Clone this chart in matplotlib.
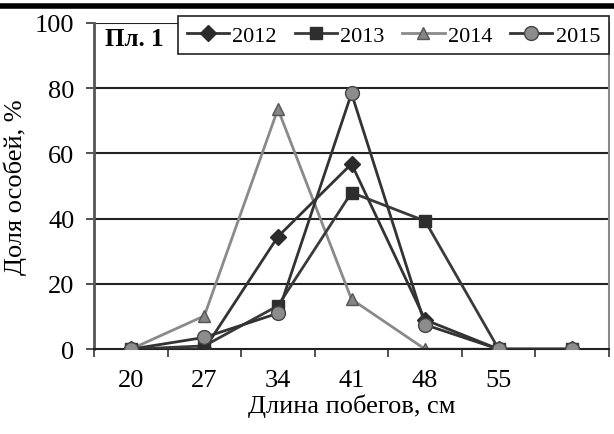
import matplotlib
matplotlib.use("Agg")
import matplotlib.pyplot as plt
from matplotlib.lines import Line2D

# shoot length classes, cm (last class has no label in the original)
categories = ["20", "27", "34", "41", "48", "55", ""]

share_2012 = [0, 0, 34.5, 56.8, 9.0, 0, 0]
share_2013 = [0, 1.0, 13.3, 48.0, 39.3, 0, 0]
share_2014 = [0, 10.2, 73.6, 15.3, 0, 0, 0]
share_2015 = [0, 3.6, 11.0, 78.4, 7.5, 0, 0]

y_ticks = [0, 20, 40, 60, 80, 100]


def main():
    plt.rcParams["font.family"] = ["Liberation Serif", "DejaVu Serif"]
    fig = plt.figure(figsize=(6.14, 4.35), dpi=100)
    ax = fig.add_axes([0.153, 0.195, 0.839, 0.75])

    x = list(range(len(categories)))
    ax.plot(x, share_2012, color="#333333", lw=2, marker="D", ms=8,
            mfc="#2b2b2b", mec="#2b2b2b", label="2012", zorder=4)
    ax.plot(x, share_2013, color="#3a3a3a", lw=2, marker="s", ms=8,
            mfc="#2e2e2e", mec="#2e2e2e", label="2013", zorder=3)
    ax.plot(x, share_2014, color="#8a8a8a", lw=2, marker="^", ms=9,
            mfc="#858585", mec="#555555", label="2014", zorder=2)
    ax.plot(x, share_2015, color="#333333", lw=2, marker="o", ms=10,
            mfc="#8c8c8c", mec="#444444", label="2015", zorder=5)

    ax.set_xlim(-0.5, len(categories) - 0.5)
    ax.set_ylim(0, 100)
    ax.set_xticks(x)
    ax.set_xticklabels(categories, fontsize=19)
    ax.set_xticks([i - 0.5 for i in range(len(categories) + 1)], minor=True)
    ax.tick_params(axis="x", which="major", length=0, pad=14)
    ax.tick_params(axis="x", which="minor", length=6, width=1.2,
                   color="#333333", direction="out")
    ax.set_yticks(y_ticks)
    ax.set_yticklabels([str(v) for v in y_ticks], fontsize=19)
    ax.tick_params(axis="y", length=6, width=1.2, color="#333333", pad=8)

    for v in y_ticks[1:]:
        ax.axhline(v, color="#222222", lw=1.5, zorder=1)

    ax.spines["top"].set_visible(False)
    ax.spines["left"].set_color("#555555")
    ax.spines["left"].set_linewidth(2)
    ax.spines["right"].set_color("#888888")
    ax.spines["right"].set_linewidth(1.5)
    ax.spines["bottom"].set_color("#222222")
    ax.spines["bottom"].set_linewidth(1.5)

    ax.set_xlabel("Длина побегов, см", fontsize=19, labelpad=2)
    ax.set_ylabel("Доля особей, %", fontsize=19, labelpad=6)

    leg = ax.legend(loc="upper left", bbox_to_anchor=(0.163, 1.021), ncol=4,
                    fontsize=16, frameon=True, fancybox=False,
                    edgecolor="#222222", framealpha=1, handlelength=1.9,
                    handletextpad=0.15, columnspacing=0.8, borderpad=0.4,
                    borderaxespad=0)
    leg.get_frame().set_linewidth(1.2)
    leg.set_zorder(10)

    ax.text(0.021, 0.951, "Пл. 1", transform=ax.transAxes, fontsize=18,
            fontweight="bold", va="center", ha="left", zorder=11)

    # heavy rule at the top of the page
    fig.add_artist(Line2D([0, 1], [0.985, 0.985], transform=fig.transFigure,
                          color="black", lw=4))

    plt.savefig("out.png", dpi=100)
    plt.close()


if __name__ == "__main__":
    main()
